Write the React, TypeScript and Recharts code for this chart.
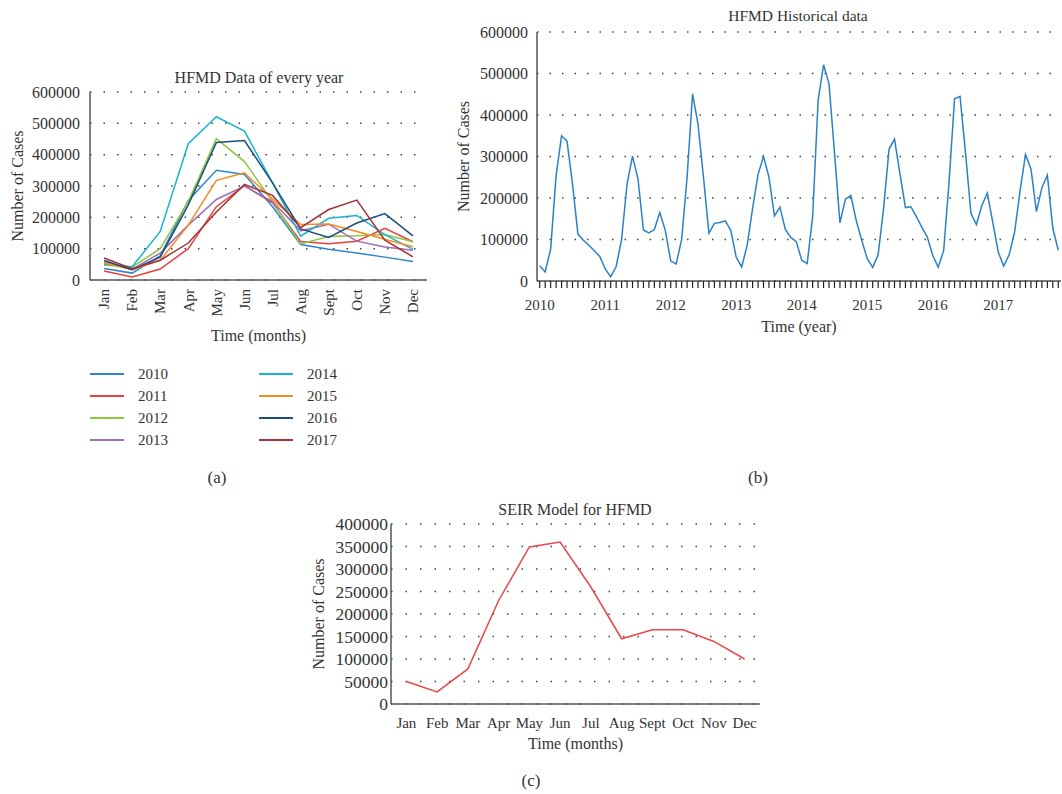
import React from 'react'
import { LineChart, Line, XAxis, YAxis, CartesianGrid, Legend } from 'recharts'

const MONTHS = ['Jan', 'Feb', 'Mar', 'Apr', 'May', 'Jun', 'Jul', 'Aug', 'Sept', 'Oct', 'Nov', 'Dec']

const CASES_2010 = [37000, 22000, 77000, 254000, 350000, 337000, 234000, 113000, 98000, 86000, 73000, 59000]
const CASES_2011 = [29000, 10000, 35000, 100000, 234000, 301000, 246000, 123000, 116000, 124000, 165000, 122000]
const CASES_2012 = [48000, 41000, 100000, 250000, 451000, 378000, 250000, 115000, 139000, 141000, 145000, 122000]
const CASES_2013 = [57000, 34000, 86000, 175000, 257000, 300000, 250000, 157000, 178000, 124000, 105000, 95000]
const CASES_2014 = [50000, 42000, 155000, 435000, 521000, 475000, 310000, 140000, 197000, 206000, 145000, 98000]
const CASES_2015 = [54000, 33000, 63000, 175000, 318000, 342000, 258000, 177000, 179000, 155000, 130000, 106000]
const CASES_2016 = [62000, 33000, 73000, 240000, 439000, 445000, 310000, 163000, 136000, 182000, 212000, 141000]
const CASES_2017 = [70000, 36000, 63000, 118000, 217000, 305000, 270000, 167000, 225000, 255000, 127000, 74000]

const SEIR_CASES = [50000, 27000, 78000, 230000, 349000, 360000, 260000, 145000, 165000, 165000, 139000, 100000]

const TICKS_600K = [0, 100000, 200000, 300000, 400000, 500000, 600000]
const TICKS_400K = [0, 50000, 100000, 150000, 200000, 250000, 300000, 350000, 400000]

const SERIES = [
  { year: '2010', values: CASES_2010, color: '#2E86C8' },
  { year: '2011', values: CASES_2011, color: '#E8403E' },
  { year: '2012', values: CASES_2012, color: '#8CC540' },
  { year: '2013', values: CASES_2013, color: '#9B6EB6' },
  { year: '2014', values: CASES_2014, color: '#18B4D0' },
  { year: '2015', values: CASES_2015, color: '#F68B1F' },
  { year: '2016', values: CASES_2016, color: '#1C4E79' },
  { year: '2017', values: CASES_2017, color: '#A23238' },
]

const yearlyData = MONTHS.map((m, i) => {
  const row: any = { month: m }
  SERIES.forEach((s) => {
    row['y' + s.year] = s.values[i]
  })
  return row
})

const historicalData = SERIES.flatMap((s) =>
  s.values.map((v, i) => ({ key: `${s.year}-${i + 1}`, cases: v }))
)

const seirData = MONTHS.map((m, i) => ({ month: m, cases: SEIR_CASES[i] }))

const TEXT = '#333'
const AXIS = '#555'
const FONT = '"Liberation Serif", "DejaVu Serif", serif'

const RotatedTick = (props: any) => {
  const { x, y, payload } = props
  return (
    <text x={x} y={y} transform={`rotate(-90, ${x}, ${y})`} textAnchor="end" dy="0.35em" fill={TEXT} fontSize={15}>
      {payload.value}
    </text>
  )
}

// year label under each January (tick lines come from the axis itself)
const YearTick = (props: any) => {
  const { x, y, payload } = props
  const label = String(payload.value)
  if (!label.endsWith('-1')) return <g />
  return (
    <text x={x} y={y} dy="0.71em" textAnchor="middle" fill={TEXT} fontSize={15}>
      {label.slice(0, 4)}
    </text>
  )
}

const LegendGrid = () => (
  <div
    style={{
      display: 'grid',
      gridTemplateColumns: '169px 169px',
      gridTemplateRows: 'repeat(4, 22px)',
      gridAutoFlow: 'column',
      fontFamily: FONT,
      fontSize: 15,
      color: TEXT,
    }}
  >
    {SERIES.map((s) => (
      <div key={s.year} style={{ display: 'flex', alignItems: 'center' }}>
        <svg width={34} height={4} style={{ marginRight: 14 }}>
          <line x1={0} y1={2} x2={34} y2={2} stroke={s.color} strokeWidth={2} />
        </svg>
        <span>{s.year}</span>
      </div>
    ))}
  </div>
)

const Caption = ({ x, y, size, children }: { x: number; y: number; size: number; children: React.ReactNode }) => (
  <div
    style={{
      position: 'absolute',
      left: x - 160,
      top: y - 10,
      width: 320,
      lineHeight: '20px',
      textAlign: 'center',
      fontSize: size,
      color: TEXT,
    }}
  >
    {children}
  </div>
)

const yLabel = (offset: number) => ({
  value: 'Number of Cases',
  angle: -90,
  position: 'insideLeft' as const,
  offset,
  style: { textAnchor: 'middle', fill: TEXT, fontSize: 16 },
})

export default function App() {
  return (
    <div
      style={{
        position: 'absolute',
        left: 0,
        top: 0,
        width: 1062,
        height: 794,
        background: '#fff',
        overflow: 'hidden',
        fontFamily: FONT,
      }}
    >
      <Caption x={259} y={78} size={16}>HFMD Data of every year</Caption>
      <Caption x={798} y={16} size={15.5}>HFMD Historical data</Caption>
      <Caption x={575} y={510} size={16}>SEIR Model for HFMD</Caption>
      <Caption x={217} y={478} size={17}>(a)</Caption>
      <Caption x={758} y={478} size={17}>(b)</Caption>
      <Caption x={531} y={781} size={17}>(c)</Caption>

      {/* (a) every year */}
      <div style={{ position: 'absolute', left: 0, top: 0 }}>
        <LineChart width={440} height={460} data={yearlyData} margin={{ top: 92, right: 13, left: 0, bottom: 115 }}>
          <CartesianGrid vertical={false} stroke="#444" strokeWidth={1.5} strokeDasharray="1.5 12" />
          <XAxis
            dataKey="month"
            scale="band"
            interval={0}
            height={65}
            tickLine={false}
            tickSize={6}
            tickMargin={3}
            tick={<RotatedTick />}
            axisLine={{ stroke: AXIS, strokeWidth: 1.5 }}
            label={{ value: 'Time (months)', position: 'insideBottom', offset: 4, style: { fill: TEXT, fontSize: 16 } }}
          />
          <YAxis
            width={90}
            domain={[0, 600000]}
            ticks={TICKS_600K}
            interval={0}
            tickLine={false}
            tickMargin={4}
            tick={{ fill: TEXT, fontSize: 16 }}
            axisLine={{ stroke: AXIS, strokeWidth: 1.5 }}
            label={yLabel(17)}
          />
          {SERIES.map((s) => (
            <Line
              key={s.year}
              type="linear"
              dataKey={'y' + s.year}
              name={s.year}
              stroke={s.color}
              strokeWidth={1.5}
              dot={false}
              isAnimationActive={false}
            />
          ))}
          <Legend
            layout="vertical"
            align="center"
            verticalAlign="middle"
            wrapperStyle={{ position: 'absolute', left: 90, top: 363, width: 340 }}
            content={() => <LegendGrid />}
          />
        </LineChart>
      </div>

      {/* (b) historical */}
      <div style={{ position: 'absolute', left: 447, top: 0 }}>
        <LineChart width={615} height={345} data={historicalData} margin={{ top: 32, right: 1, left: 0, bottom: 0 }}>
          <CartesianGrid vertical={false} stroke="#444" strokeWidth={1.5} strokeDasharray="1.5 11" />
          <XAxis
            dataKey="key"
            scale="band"
            interval={0}
            minTickGap={0}
            height={64}
            tickSize={7}
            tickMargin={11}
            stroke="#222"
            tickLine={{ stroke: '#222', strokeWidth: 1.2 }}
            tick={<YearTick />}
            axisLine={{ stroke: AXIS, strokeWidth: 1.5 }}
            label={{ value: 'Time (year)', position: 'insideBottom', offset: 13, style: { fill: TEXT, fontSize: 16 } }}
          />
          <YAxis
            width={90}
            domain={[0, 600000]}
            ticks={TICKS_600K}
            interval={0}
            tickLine={false}
            tickMargin={3}
            tick={{ fill: TEXT, fontSize: 16 }}
            axisLine={{ stroke: AXIS, strokeWidth: 1.5 }}
            label={yLabel(16)}
          />
          <Line type="linear" dataKey="cases" stroke="#2A82C6" strokeWidth={1.5} dot={false} isAnimationActive={false} />
        </LineChart>
      </div>

      {/* (c) SEIR */}
      <div style={{ position: 'absolute', left: 301, top: 495 }}>
        <LineChart width={470} height={265} data={seirData} margin={{ top: 29, right: 11, left: 0, bottom: 0 }}>
          <CartesianGrid vertical={false} stroke="#444" strokeWidth={1.5} strokeDasharray="1.5 13" />
          <XAxis
            dataKey="month"
            scale="band"
            interval={0}
            height={56}
            tickLine={false}
            tickSize={6}
            tickMargin={7}
            tick={{ fill: TEXT, fontSize: 15 }}
            axisLine={{ stroke: AXIS, strokeWidth: 1.5 }}
            label={{ value: 'Time (months)', position: 'insideBottom', offset: 11, style: { fill: TEXT, fontSize: 16 } }}
          />
          <YAxis
            width={90}
            domain={[0, 400000]}
            ticks={TICKS_400K}
            interval={0}
            tickLine={false}
            tickSize={0}
            tickMargin={3}
            tick={{ fill: TEXT, fontSize: 17.5 }}
            axisLine={{ stroke: AXIS, strokeWidth: 1.5 }}
            label={yLabel(17)}
          />
          <Line type="linear" dataKey="cases" stroke="#E8474C" strokeWidth={1.5} dot={false} isAnimationActive={false} />
        </LineChart>
      </div>
    </div>
  )
}
